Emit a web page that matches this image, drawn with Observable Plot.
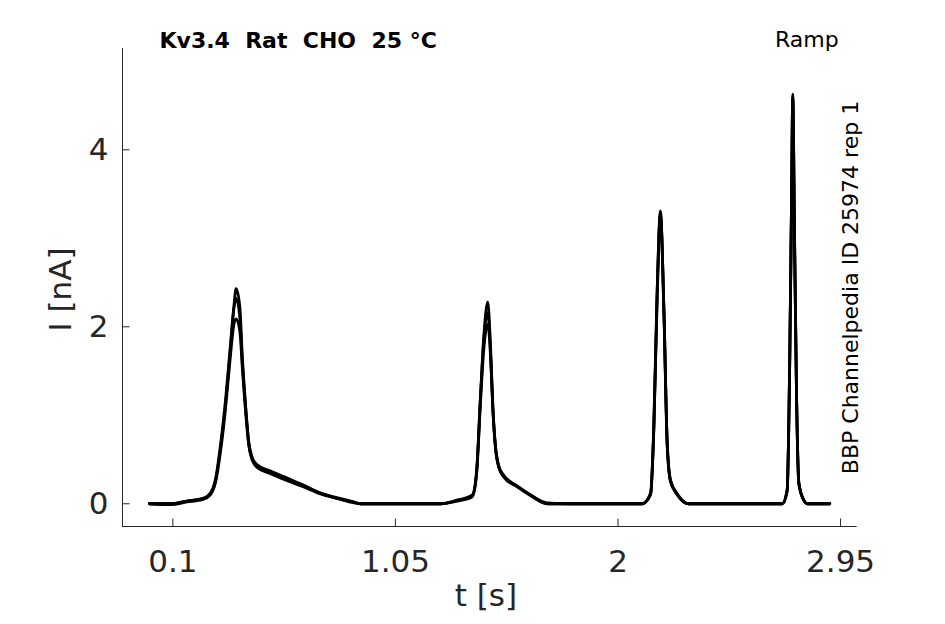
<!DOCTYPE html>
<html>
<head>
<meta charset="utf-8">
<script src="https://cdn.jsdelivr.net/npm/d3@7"></script>
<script src="https://cdn.jsdelivr.net/npm/@observablehq/plot@0.6"></script>
<style>
  html, body { margin: 0; padding: 0; background: white; }
  svg text { white-space: pre; }
</style>
</head>
<body>
<div id="chart"></div>
<script>
// ---- data ----
const title = "Kv3.4  Rat  CHO  25 °C";
const protocolLabel = "Ramp";
const sourceLabel = "BBP Channelpedia ID 25974 rep 1";
const xLabel = "t [s]";
const yLabel = "I [nA]";
const xTicks = [0.1, 1.05, 2, 2.95];
const xTickLabels = ["0.1", "1.05", "2", "2.95"];
const yTicks = [0, 2, 4];
const yTickLabels = ["0", "2", "4"];
const xDomain = [-0.115, 3.021];
const yDomain = [-0.257, 5.145];

const time = [0.00, 0.09, 0.16, 0.23, 0.26, 0.282, 0.304, 0.325, 0.346, 0.36, 0.37, 0.386, 0.396, 0.41, 0.424, 0.439, 0.46, 0.517, 0.588, 0.659, 0.73, 0.80, 0.873, 0.90, 1.00, 1.10, 1.243, 1.314, 1.378, 1.396, 1.413, 1.427, 1.444, 1.456, 1.466, 1.477, 1.491, 1.513, 1.57, 1.627, 1.698, 1.80, 1.90, 2.011, 2.103, 2.139, 2.153, 2.167, 2.181, 2.196, 2.21, 2.224, 2.253, 2.302, 2.40, 2.50, 2.60, 2.701, 2.722, 2.733, 2.741, 2.746, 2.753, 2.762, 2.772, 2.793, 2.808, 2.85, 2.904];

const traceA = [0, 0, 0.03, 0.06, 0.11, 0.26, 0.64, 1.13, 1.77, 2.22, 2.43, 2.22, 1.69, 1.13, 0.68, 0.49, 0.41, 0.34, 0.26, 0.19, 0.11, 0.06, 0.01, 0, 0, 0, 0, 0.04, 0.09, 0.34, 1.2, 1.88, 2.28, 1.77, 1.09, 0.64, 0.41, 0.3, 0.19, 0.09, 0, 0, 0, 0, 0, 0.11, 0.87, 2.37, 3.31, 2.18, 0.68, 0.26, 0.11, 0, 0, 0, 0, 0, 0.15, 1.62, 3.5, 4.63, 3.13, 1.24, 0.23, 0.04, 0, 0, 0];
const traceB = [0, -0.01, 0.02, 0.05, 0.10, 0.24, 0.60, 1.08, 1.68, 2.02, 2.09, 1.95, 1.55, 1.05, 0.66, 0.50, 0.43, 0.36, 0.28, 0.2, 0.12, 0.06, 0.02, 0, 0, 0, 0, 0.03, 0.08, 0.32, 1.14, 1.74, 2.03, 1.66, 1.05, 0.63, 0.42, 0.32, 0.2, 0.1, 0.01, 0, 0, 0, 0, 0.1, 0.84, 2.3, 3.26, 2.2, 0.7, 0.27, 0.11, 0, 0, 0, 0, 0, 0.14, 1.58, 3.45, 4.58, 3.15, 1.26, 0.24, 0.04, 0, 0, 0];
const traceC = [0, 0, 0.03, 0.06, 0.12, 0.28, 0.68, 1.18, 1.8, 2.2, 2.32, 2.1, 1.62, 1.1, 0.7, 0.52, 0.44, 0.37, 0.29, 0.21, 0.12, 0.07, 0.02, 0, 0, 0, 0, 0.04, 0.1, 0.36, 1.22, 1.85, 2.16, 1.72, 1.08, 0.65, 0.43, 0.31, 0.2, 0.1, 0, 0, 0, 0, 0, 0.12, 0.9, 2.4, 3.28, 2.15, 0.66, 0.25, 0.1, 0, 0, 0, 0, 0, 0.16, 1.65, 3.52, 4.6, 3.1, 1.22, 0.22, 0.04, 0, 0, 0];

const traces = [["A", traceA], ["B", traceB], ["C", traceC]];
const rows = traces.flatMap(([rep, vals]) => vals.map((v, k) => ({rep, t: time[k], i: v})));

// ---- layout ----
const W = 945, H = 624;
const mL = 122, mR = 88.3, mT = 48, mB = 98;
const innerW = W - mL - mR, innerH = H - mT - mB;
const tick = 7.5;
const axisColor = "#262626";

const chart = Plot.plot({
  width: W,
  height: H,
  marginLeft: mL,
  marginRight: mR,
  marginTop: mT,
  marginBottom: mB,
  style: {fontFamily: "DejaVu Sans", fontSize: "31px", color: axisColor, background: "white", overflow: "visible"},
  x: {domain: xDomain},
  y: {domain: yDomain},
  marks: [
    Plot.ruleX([xDomain[0]], {stroke: axisColor, strokeWidth: 1}),
    Plot.ruleY([yDomain[0]], {stroke: axisColor, strokeWidth: 1}),
    Plot.ruleX(xTicks, {stroke: axisColor, strokeWidth: 1, insetTop: innerH - tick}),
    Plot.ruleY(yTicks, {stroke: axisColor, strokeWidth: 1, insetRight: innerW - tick}),
    Plot.axisX({ticks: xTicks, tickFormat: (d) => xTickLabels[xTicks.indexOf(d)], tickSize: 0, tickPadding: 23.5, label: null, fill: axisColor}),
    Plot.axisY({ticks: yTicks, tickFormat: (d) => yTickLabels[yTicks.indexOf(d)], tickSize: 0, tickPadding: 14, label: null, fill: axisColor}),
    Plot.line(rows, {x: "t", y: "i", z: "rep", stroke: "black", strokeWidth: 2.8, curve: "monotone-x", strokeLinejoin: "round"}),
    Plot.text([title], {frameAnchor: "top-left", dx: 37, dy: -1, lineAnchor: "bottom", textAnchor: "start", fontSize: 22, fontWeight: "bold", fill: "black"}),
    Plot.text([protocolLabel], {frameAnchor: "top-right", dx: -18.5, dy: -1.5, lineAnchor: "bottom", textAnchor: "end", fontSize: 22, fill: "black"}),
    Plot.text([sourceLabel], {frameAnchor: "right", dx: 0.5, dy: 0, rotate: -90, lineAnchor: "bottom", textAnchor: "middle", fontSize: 22, fill: "black"}),
    Plot.text([xLabel], {frameAnchor: "bottom", dx: -4, dy: 79, lineAnchor: "bottom", textAnchor: "middle", fontSize: 31, fill: axisColor}),
    Plot.text([yLabel], {frameAnchor: "left", dx: -52, dy: 2, rotate: -90, lineAnchor: "bottom", textAnchor: "middle", fontSize: 31, fill: axisColor})
  ]
});
document.getElementById("chart").appendChild(chart);
</script>
</body>
</html>
